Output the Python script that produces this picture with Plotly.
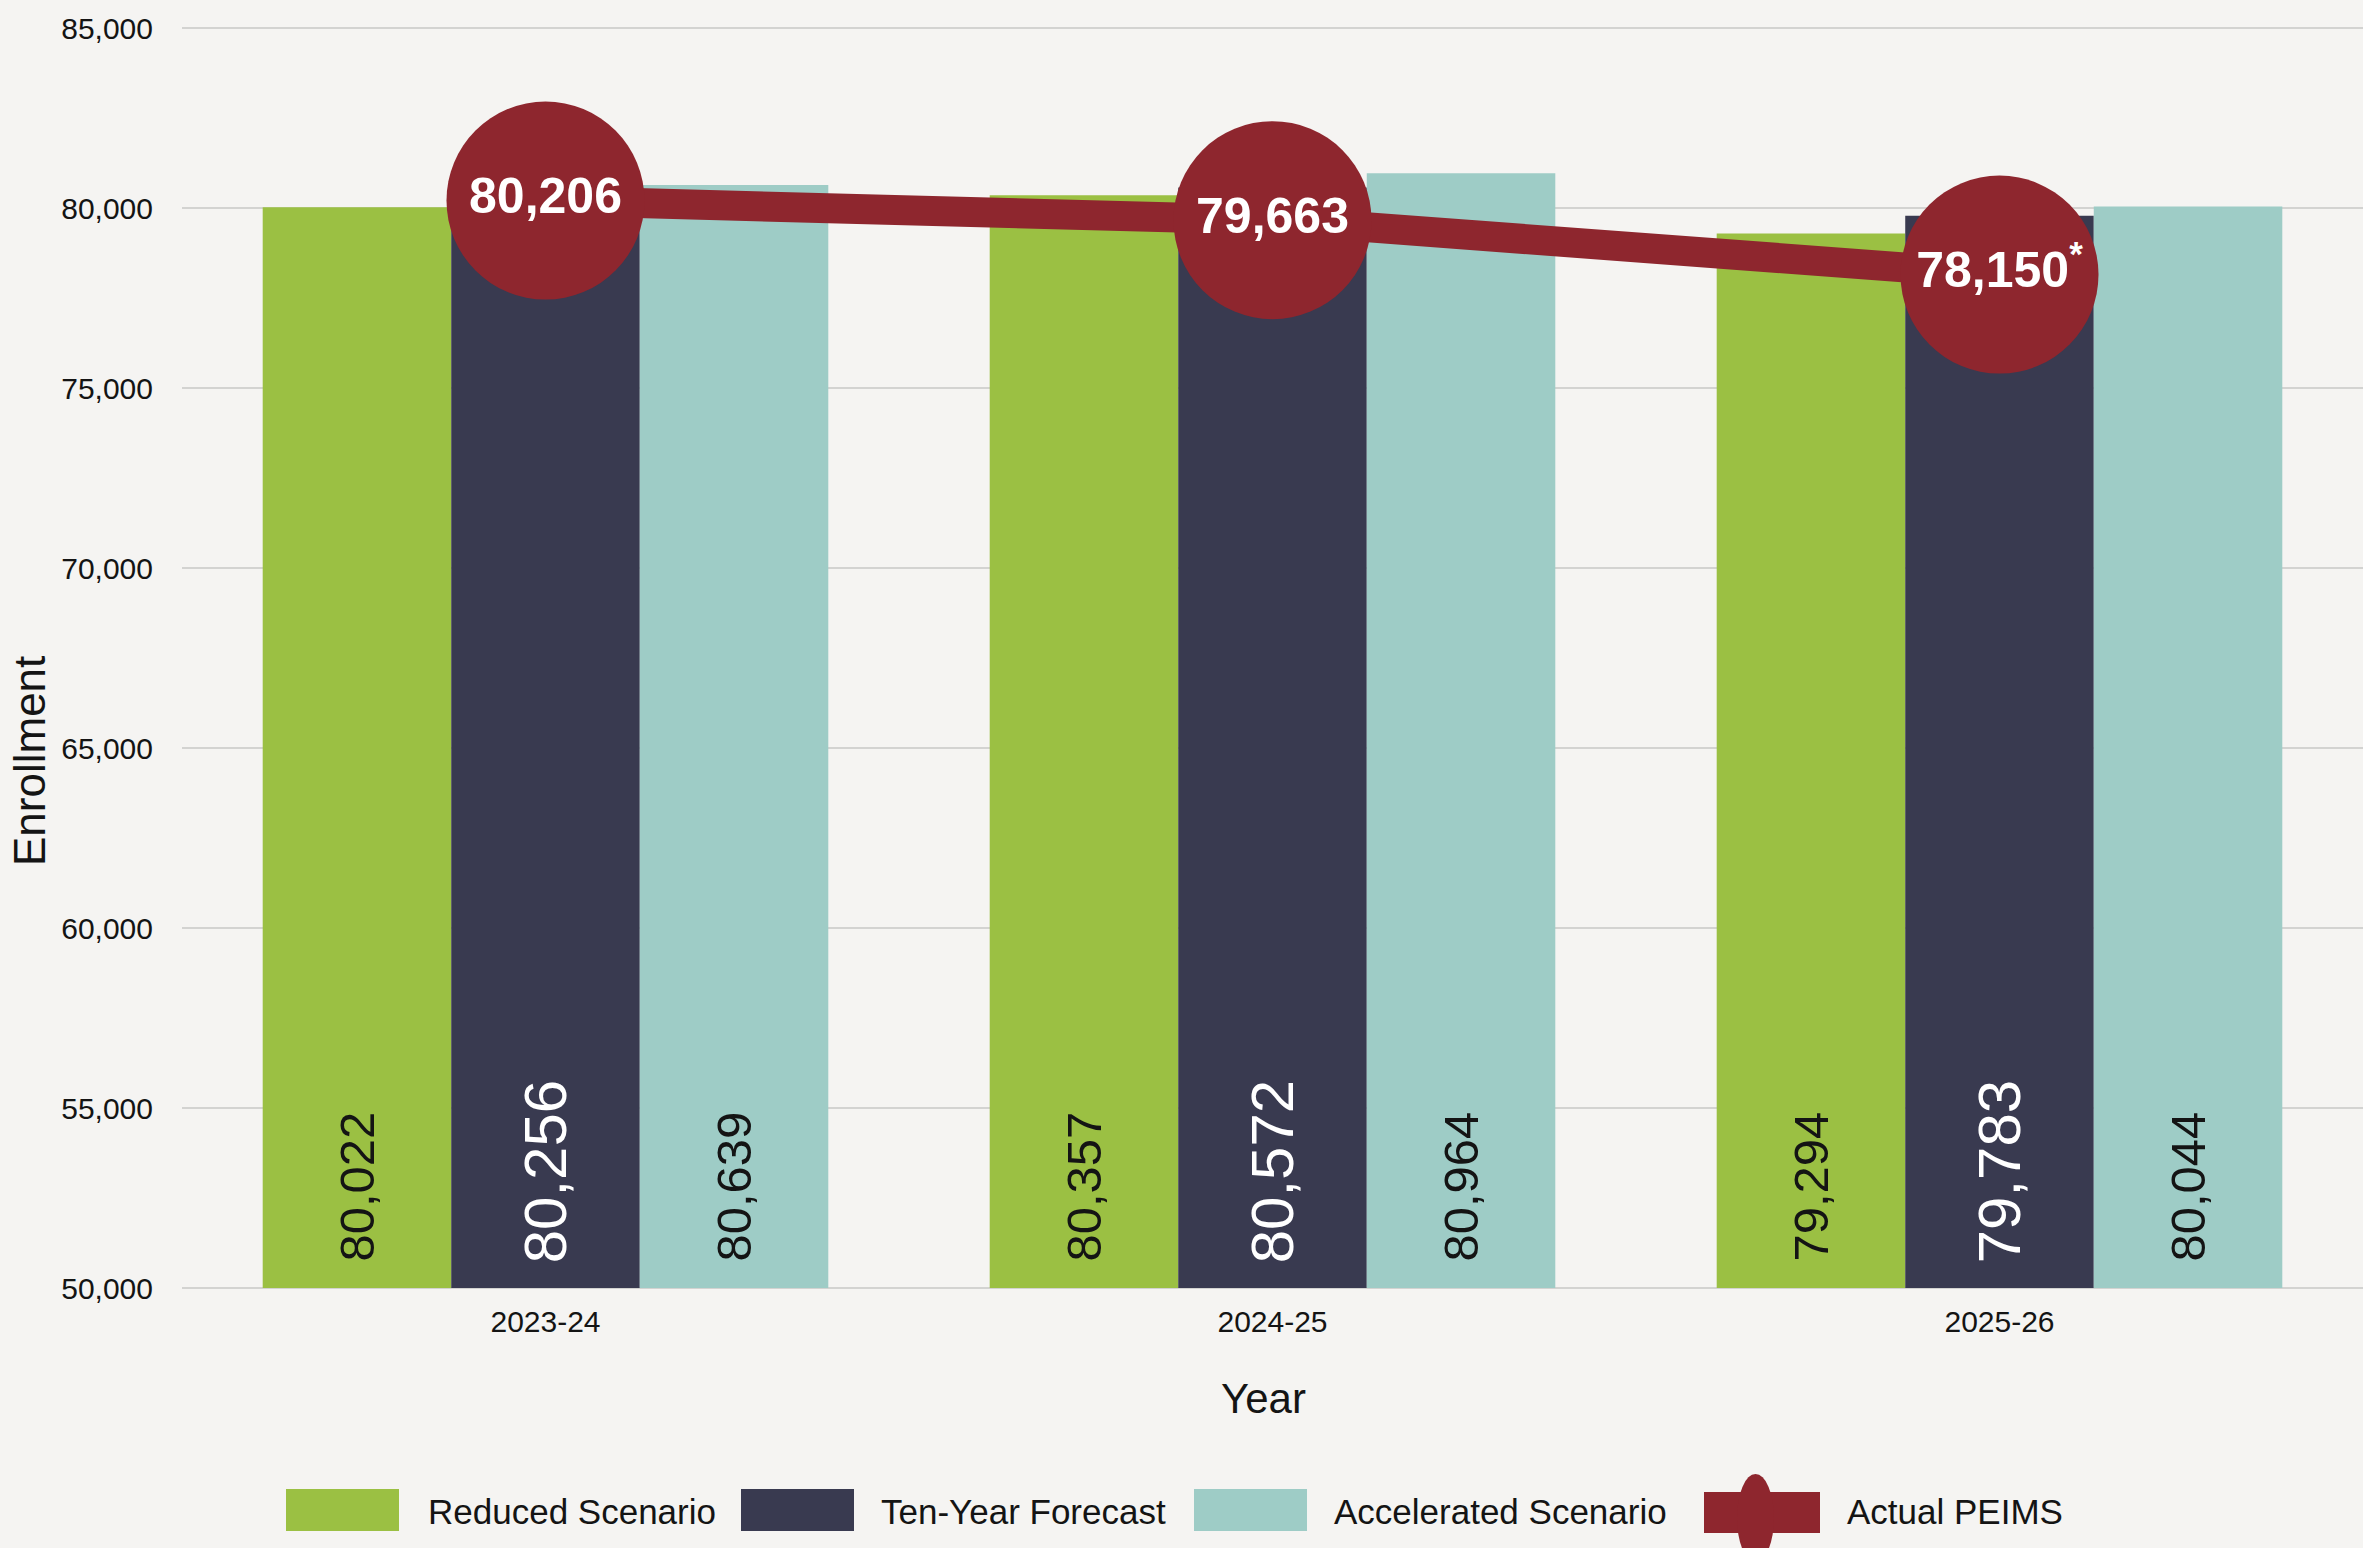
import plotly.graph_objects as go

# ---------------- data ----------------
years = ["2023-24", "2024-25", "2025-26"]
reduced = [80022, 80357, 79294]
forecast = [80256, 80572, 79783]
accelerated = [80639, 80964, 80044]
actual = [80206, 79663, 78150]
actual_labels = ["80,206", "79,663", "78,150<sup>*</sup>"]
series_names = ["Reduced Scenario", "Ten-Year Forecast", "Accelerated Scenario", "Actual PEIMS"]
y_ticks = [50000, 55000, 60000, 65000, 70000, 75000, 80000, 85000]
x_title = "Year"
y_title = "Enrollment"

# ---------------- style ----------------
GREEN = "#9BC043"
NAVY = "#393A50"
TEAL = "#9ECCC6"
RED = "#8E262E"
BG = "#F5F4F2"
GRID = "#D3D3D1"
TXT = "#141414"
FONT = "Liberation Sans, Arial, sans-serif"

W, H = 2363, 1548
ML, MR, MT, MB = 182, 0, 26, 258
PW, PH = W - ML - MR, H - MT - MB
AXIS_MIN, AXIS_MAX = y_ticks[0], y_ticks[-1]
EDGE = (AXIS_MAX - AXIS_MIN) / (PH - 4) * 2  # 2px headroom so end gridlines show


def px_x(x):
    return (x - ML) / PW


def px_y(y):
    return (H - MB - y) / PH


fig = go.Figure()


def add_bar(vals, name, color, tcolor, tsize, pad):
    fig.add_trace(go.Bar(
        x=years,
        y=[v - AXIS_MIN for v in vals],
        base=AXIS_MIN,
        customdata=vals,
        name=name,
        marker=dict(color=color, line=dict(width=0)),
        texttemplate=pad + "%{customdata:,}",
        textposition="inside",
        insidetextanchor="start",
        textangle=-90,
        textfont=dict(family=FONT, size=tsize, color=tcolor),
        showlegend=False,
        hoverinfo="skip",
    ))


add_bar(reduced, series_names[0], GREEN, TXT, 49, "\u00a0\u2009")
add_bar(forecast, series_names[1], NAVY, "white", 60, "\u00a0\u200a")
add_bar(accelerated, series_names[2], TEAL, TXT, 49, "\u00a0\u2009")

fig.add_trace(go.Scatter(
    x=years,
    y=actual,
    name=series_names[3],
    mode="lines+markers+text",
    line=dict(color=RED, width=30),
    marker=dict(size=198, color=RED, line=dict(width=0)),
    text=actual_labels,
    textposition="middle center",
    textfont=dict(family=FONT, size=50, color="white", weight="bold"),
    cliponaxis=False,
    showlegend=False,
    hoverinfo="skip",
))

# ---------------- custom legend (large swatches) ----------------
shapes = []
annotations = []
legend_items = [
    (286, 399, 426, GREEN, series_names[0]),
    (741, 854, 879, NAVY, series_names[1]),
    (1194, 1307, 1332, TEAL, series_names[2]),
    (1704, 1820, 1845, RED, series_names[3]),
]
for x0, x1, tx, col, label in legend_items:
    if col == RED:
        y0, y1 = 1492, 1533
    else:
        y0, y1 = 1489, 1531
    shapes.append(dict(type="rect", xref="paper", yref="paper",
                       x0=px_x(x0), x1=px_x(x1), y0=px_y(y1), y1=px_y(y0),
                       fillcolor=col, line=dict(width=0), layer="above"))
    if col == RED:
        shapes.append(dict(type="circle", xref="paper", yref="paper",
                           x0=px_x(1737), x1=px_x(1774), y0=px_y(1562), y1=px_y(1474),
                           fillcolor=col, line=dict(width=0), layer="above"))
    annotations.append(dict(text=label, xref="paper", yref="paper",
                            x=px_x(tx), y=px_y(1511), xanchor="left", yanchor="middle",
                            showarrow=False,
                            font=dict(family=FONT, size=35, color=TXT)))

# axis titles (placed off-centre like the reference)
annotations.append(dict(text=x_title, xref="paper", yref="paper",
                        x=px_x(1263), y=px_y(1398), xanchor="center", yanchor="middle",
                        showarrow=False, font=dict(family=FONT, size=42, color=TXT)))
annotations.append(dict(text=y_title, xref="paper", yref="paper",
                        x=px_x(29), y=px_y(761), xanchor="center", yanchor="middle",
                        textangle=-90, showarrow=False,
                        font=dict(family=FONT, size=44, color=TXT)))

fig.update_layout(
    width=W, height=H,
    margin=dict(l=ML, r=MR, t=MT, b=MB, autoexpand=False),
    paper_bgcolor=BG,
    plot_bgcolor=BG,
    barmode="group",
    bargap=0.222,
    bargroupgap=0,
    showlegend=False,
    shapes=shapes,
    annotations=annotations,
    font=dict(family=FONT, color=TXT),
    xaxis=dict(
        type="category",
        showgrid=False,
        showline=False,
        zeroline=False,
        ticks="",
        tickfont=dict(family=FONT, size=30, color=TXT),
        ticklabelstandoff=11,
        automargin=False,
    ),
    yaxis=dict(
        range=[AXIS_MIN - EDGE, AXIS_MAX + EDGE],
        tickvals=y_ticks,
        tickformat=",",
        showgrid=True,
        gridcolor=GRID,
        gridwidth=2,
        zeroline=False,
        showline=False,
        ticks="",
        tickfont=dict(family=FONT, size=30, color=TXT),
        ticklabelstandoff=28,
        automargin=False,
    ),
)

fig.write_html(
    "out.html",
    config={"displayModeBar": False},
    post_script="document.body.style.margin='0';document.body.style.overflow='hidden';"
                "document.body.style.background='" + BG + "';",
)
